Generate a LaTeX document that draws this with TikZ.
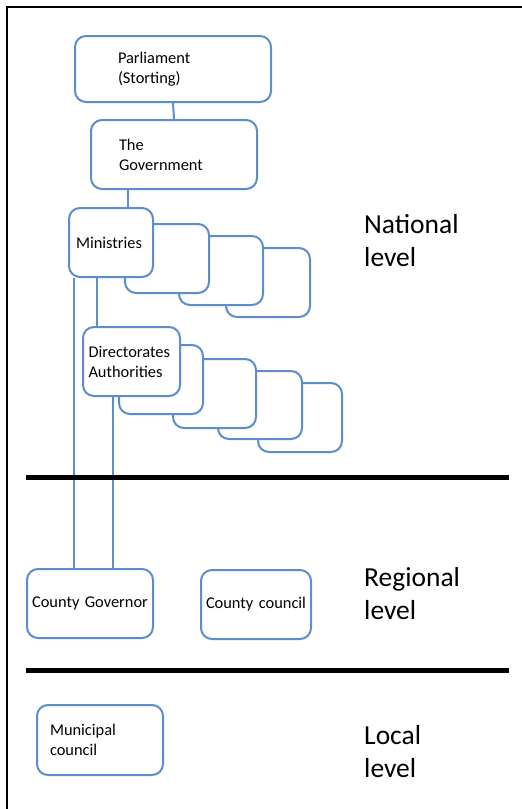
\documentclass[tikz,border=0pt]{standalone}
\usepackage{fontspec}
\setmainfont{Carlito}
\definecolor{boxblue}{RGB}{92,142,204}
\tikzset{
  box/.style={draw=boxblue, line width=2pt, rounded corners=11pt, fill=white,
    anchor=north west, inner sep=0pt, font=\fontsize{16.4}{20}\selectfont, align=left},
  link/.style={draw=boxblue, line width=2pt},
  lvl/.style={anchor=west, align=left, inner sep=0pt, font=\fontsize{27.5}{33}\selectfont},
  sepline/.style={line width=5pt, black},
}
\begin{document}
\begin{tikzpicture}[x=1pt, y=-1pt]
\useasboundingbox (0,0) rectangle (522,809);
% frame
\coordinate (fb) at (6.5,809);
\coordinate (ft) at (6.5,7.3);
\coordinate (fr) at (522,7.3);
\draw[line width=2pt] (fb) -- (ft) -- (fr);

% boxes
\node[box, minimum width=196pt, minimum height=66pt, text width=110pt] (parl) at (74,35) {Parliament\\(Storting)};
\node[box, minimum width=166pt, minimum height=69pt, text width=110pt] (gov) at (90,119) {The\\Government};

\node[box, minimum width=84pt, minimum height=69pt] (m4) at (225,247) {};
\node[box, minimum width=84pt, minimum height=69pt] (m3) at (178,235) {};
\node[box, minimum width=84pt, minimum height=69pt] (m2) at (124,223) {};
\node[box, minimum width=84pt, minimum height=69pt, text width=70pt] (min) at (68,207) {Ministries};

\node[box, minimum width=84pt, minimum height=69pt] (d5) at (257,382) {};
\node[box, minimum width=84pt, minimum height=68pt] (d4) at (217,370) {};
\node[box, minimum width=83pt, minimum height=69pt] (d3) at (172,358) {};
\node[box, minimum width=84pt, minimum height=69pt] (d2) at (118,344) {};
\node[box, minimum width=97pt, minimum height=69pt, text width=86pt] (dir) at (82,326) {Directorates\\Authorities};

\node[box, minimum width=126pt, minimum height=69pt, text width=120pt, align=center] (cg) at (26,568) {County Governor};
\node[box, minimum width=110pt, minimum height=69pt, text width=106pt, align=center] (cc) at (200,569) {County council};
\node[box, minimum width=126pt, minimum height=70pt, text width=100pt] (mun) at (36,704) {Municipal\\council};

% connectors
\coordinate (xa) at (128,0);
\coordinate (xb) at (74,0);
\coordinate (xc) at (97,0);
\coordinate (xd) at (113,0);
\draw[link] (parl.south) -- (gov.north);
\draw[link] (gov.south -| xa) -- (min.north -| xa);
\draw[link] (min.south -| xb) -- (cg.north -| xb);
\draw[link] (min.south -| xc) -- (dir.north -| xc);
\draw[link] (dir.south -| xd) -- (cg.north -| xd);

% separators
\coordinate (s1l) at (26,477);
\coordinate (s1r) at (509,477);
\coordinate (s2l) at (26,670);
\coordinate (s2r) at (509,670);
\draw[sepline] (s1l) -- (s1r);
\draw[sepline] (s2l) -- (s2r);

% level labels
\node[lvl] (nat) at (364,241) {National\\level};
\node[lvl] (reg) at (364,594) {Regional\\level};
\node[lvl] (loc) at (364,752) {Local\\level};
\end{tikzpicture}
\end{document}
